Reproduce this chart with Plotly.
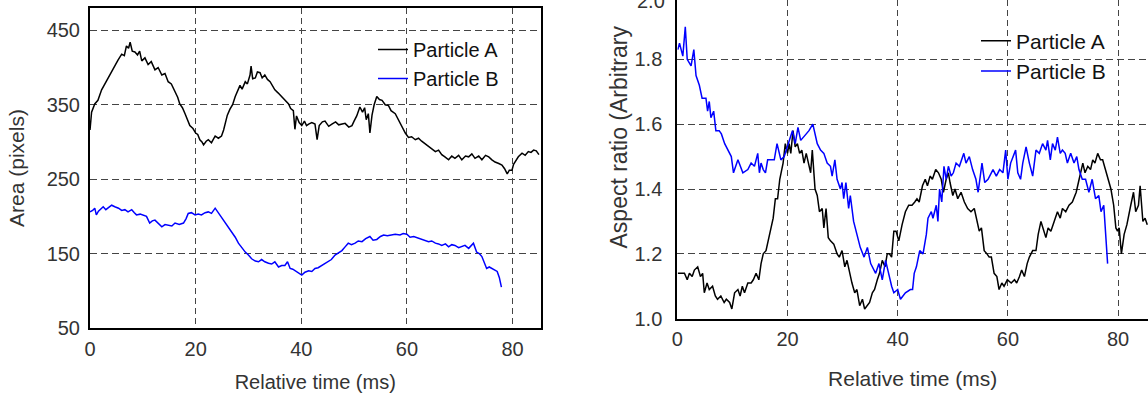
import plotly.graph_objects as go

# ---------------- data ----------------
# Left panel: projected area (pixels) vs relative time (ms)
area_a = [
    (0.0, 316), (0.3, 340), (0.9, 351), (1.5, 356), (2.2, 370), (2.8, 378), (3.5, 388), (4.1, 396),
    (4.7, 404), (5.3, 410), (6.0, 418), (6.5, 416), (6.9, 429), (7.3, 426), (7.6, 434), (8.0, 422),
    (8.5, 421), (9.0, 417), (9.4, 422), (9.8, 409), (10.4, 413), (11.0, 404), (11.6, 408), (12.3, 397),
    (12.9, 400), (13.6, 390), (14.2, 392), (14.8, 381), (15.4, 378), (16.1, 367), (16.6, 360), (17.0, 351),
    (17.5, 346), (18.0, 338), (18.5, 330), (18.9, 322), (19.5, 318), (20.0, 312), (20.4, 310), (20.8, 303),
    (21.2, 300), (21.5, 296), (22.0, 301), (22.4, 303), (23.0, 299), (23.7, 308), (24.3, 305), (24.9, 308),
    (25.3, 316), (25.6, 326), (26.0, 336), (26.5, 344), (27.0, 350), (27.5, 361), (28.0, 369), (28.4, 376),
    (28.8, 371), (29.4, 381), (29.8, 378), (30.3, 390), (30.5, 402), (30.8, 385), (31.3, 386), (31.7, 394),
    (32.2, 393), (32.6, 386), (33.1, 390), (33.6, 384), (34.1, 381), (34.6, 374), (35.0, 370), (35.6, 366),
    (36.3, 361), (37.0, 356), (37.6, 351), (38.0, 345), (38.5, 342), (38.8, 317), (39.1, 335), (39.6, 326),
    (40.1, 322), (40.6, 328), (41.0, 322), (41.4, 324), (42.0, 326), (42.6, 324), (43.0, 303), (43.4, 322),
    (44.0, 327), (44.5, 328), (45.2, 321), (45.8, 324), (46.5, 327), (47.1, 323), (47.7, 324), (48.3, 325),
    (49.0, 320), (49.6, 322), (50.0, 328), (50.5, 335), (51.1, 347), (51.6, 340), (52.0, 346), (52.3, 330),
    (52.7, 338), (53.0, 312), (53.4, 336), (53.8, 350), (54.3, 361), (54.8, 357), (55.3, 356), (55.9, 350),
    (56.5, 349), (57.0, 342), (57.8, 338), (58.5, 328), (59.1, 319), (59.7, 312), (60.3, 306), (60.9, 307),
    (61.6, 303), (62.2, 305), (62.8, 301), (63.5, 297), (64.1, 294), (64.7, 291), (65.4, 287), (66.0, 289),
    (66.6, 283), (67.2, 280), (67.9, 276), (68.5, 281), (69.1, 278), (69.8, 282), (70.4, 276), (71.1, 281),
    (71.7, 280), (72.3, 284), (72.9, 278), (73.6, 281), (74.2, 276), (74.9, 282), (75.5, 280), (76.1, 276),
    (76.7, 273), (77.4, 271), (78.0, 269), (78.5, 264), (79.0, 257), (79.4, 262), (79.9, 262), (80.2, 270),
    (80.5, 273), (81.1, 280), (81.8, 285), (82.4, 282), (83.0, 287), (83.5, 286), (84.0, 289), (84.5, 288),
    (85.0, 283),
]
area_b = [
    (0.0, 206), (0.5, 208), (0.9, 211), (1.2, 202), (1.6, 207), (2.0, 210), (2.5, 213), (3.0, 209),
    (3.5, 212), (4.1, 215), (4.7, 213), (5.4, 211), (6.0, 208), (6.6, 209), (7.2, 206), (7.9, 209),
    (8.4, 205), (8.8, 202), (9.5, 203), (10.1, 202), (10.7, 200), (11.3, 191), (11.8, 194), (12.3, 195),
    (13.0, 190), (13.6, 186), (14.2, 189), (14.8, 188), (15.5, 187), (16.1, 191), (16.9, 189), (17.7, 191),
    (18.2, 197), (18.6, 204), (19.2, 205), (19.9, 202), (20.5, 203), (21.1, 202), (21.8, 205), (22.4, 206),
    (23.0, 204), (23.7, 211), (24.1, 207), (24.6, 202), (25.1, 197), (25.6, 191), (26.2, 185), (26.8, 179),
    (27.5, 172), (28.1, 164), (28.7, 158), (29.4, 152), (30.0, 148), (30.6, 143), (31.3, 140), (31.9, 139),
    (32.5, 142), (33.1, 139), (33.8, 137), (34.4, 136), (35.0, 139), (35.7, 132), (36.3, 134), (36.9, 134),
    (37.4, 139), (37.9, 130), (38.4, 129), (38.8, 127), (39.4, 125), (40.1, 121), (40.7, 125), (41.4, 127),
    (42.0, 126), (42.6, 130), (43.2, 131), (43.9, 134), (44.5, 136), (45.1, 139), (45.7, 142), (46.4, 148),
    (47.0, 151), (47.7, 154), (48.3, 159), (48.9, 164), (49.5, 162), (50.2, 164), (50.8, 167), (51.5, 166),
    (52.2, 170), (53.0, 173), (53.6, 168), (54.3, 169), (55.0, 173), (55.6, 175), (56.3, 174), (57.1, 175),
    (57.8, 176), (58.7, 175), (59.3, 177), (60.0, 176), (60.6, 172), (61.3, 173), (62.0, 171), (62.8, 169),
    (63.4, 168), (64.1, 166), (64.7, 167), (65.4, 164), (66.0, 163), (66.6, 161), (67.3, 163), (67.9, 159),
    (68.5, 162), (69.1, 161), (69.8, 158), (70.4, 160), (71.0, 161), (71.7, 157), (72.2, 161), (72.6, 164),
    (73.2, 152), (73.7, 150), (74.2, 146), (74.7, 137), (75.1, 130), (75.6, 132), (76.1, 130), (76.6, 128),
    (77.1, 126), (77.5, 118), (77.9, 105),
]

# Right panel: aspect ratio (arbitrary units) vs relative time (ms)
aspect_a = [
    (0.1, 1.14), (0.7, 1.14), (1.3, 1.14), (1.8, 1.12), (2.2, 1.14), (2.7, 1.13), (3.1, 1.15), (3.7, 1.16),
    (4.2, 1.13), (4.6, 1.14), (4.9, 1.08), (5.4, 1.11), (5.8, 1.09), (6.4, 1.10), (6.9, 1.07), (7.3, 1.06),
    (7.9, 1.07), (8.5, 1.05), (8.9, 1.06), (9.5, 1.05), (9.9, 1.03), (10.4, 1.08), (11.0, 1.09), (11.4, 1.07),
    (11.8, 1.10), (12.2, 1.08), (12.8, 1.11), (13.4, 1.11), (13.8, 1.12), (14.3, 1.14), (14.8, 1.12), (15.2, 1.17),
    (15.6, 1.20), (16.1, 1.21), (16.6, 1.25), (17.0, 1.28), (17.4, 1.31), (17.8, 1.37), (18.2, 1.37), (18.6, 1.43),
    (19.0, 1.47), (19.2, 1.48), (19.6, 1.54), (20.0, 1.51), (20.3, 1.54), (20.6, 1.51), (21.0, 1.58), (21.4, 1.53),
    (21.8, 1.54), (22.2, 1.51), (22.6, 1.52), (23.0, 1.48), (23.4, 1.51), (23.9, 1.47), (24.2, 1.45), (24.5, 1.52),
    (25.0, 1.40), (25.4, 1.38), (25.8, 1.33), (26.3, 1.34), (26.6, 1.28), (27.0, 1.34), (27.4, 1.25), (27.8, 1.24),
    (28.4, 1.23), (29.0, 1.20), (29.4, 1.19), (29.9, 1.21), (30.4, 1.16), (30.8, 1.18), (31.3, 1.14), (31.7, 1.11),
    (32.2, 1.08), (32.6, 1.09), (33.1, 1.04), (33.6, 1.06), (34.0, 1.03), (34.5, 1.04), (34.9, 1.05), (35.4, 1.08),
    (35.8, 1.09), (36.3, 1.12), (36.7, 1.14), (37.2, 1.18), (37.7, 1.16), (38.1, 1.20), (38.5, 1.20), (38.9, 1.19),
    (39.3, 1.27), (39.7, 1.27), (40.2, 1.24), (40.8, 1.29), (41.4, 1.33), (42.0, 1.35), (42.6, 1.35), (43.1, 1.36),
    (43.5, 1.37), (43.9, 1.36), (44.5, 1.41), (45.0, 1.43), (45.4, 1.41), (45.9, 1.44), (46.3, 1.43), (46.9, 1.46),
    (47.4, 1.45), (47.9, 1.43), (48.3, 1.39), (48.8, 1.43), (49.2, 1.45), (49.5, 1.42), (50.0, 1.38), (50.4, 1.40),
    (50.9, 1.37), (51.5, 1.39), (52.1, 1.36), (52.7, 1.34), (53.3, 1.33), (53.9, 1.34), (54.4, 1.30), (54.8, 1.27),
    (55.2, 1.28), (55.7, 1.21), (56.2, 1.20), (56.6, 1.19), (57.0, 1.19), (57.5, 1.14), (58.0, 1.13), (58.4, 1.09),
    (58.9, 1.11), (59.3, 1.10), (59.9, 1.12), (60.6, 1.11), (61.2, 1.12), (61.6, 1.11), (62.1, 1.13), (62.5, 1.15),
    (63.0, 1.13), (63.5, 1.17), (63.9, 1.19), (64.5, 1.21), (65.1, 1.21), (65.5, 1.26), (66.0, 1.30), (66.5, 1.27),
    (66.9, 1.25), (67.3, 1.28), (67.8, 1.27), (68.4, 1.30), (69.0, 1.33), (69.5, 1.31), (69.9, 1.34), (70.5, 1.33),
    (71.1, 1.35), (71.7, 1.36), (72.4, 1.39), (72.8, 1.42), (73.1, 1.44), (73.6, 1.48), (74.0, 1.45), (74.5, 1.47),
    (75.0, 1.46), (75.4, 1.49), (75.8, 1.48), (76.3, 1.51), (76.8, 1.49), (77.2, 1.49), (77.7, 1.46), (78.2, 1.43),
    (78.7, 1.40), (79.2, 1.35), (79.6, 1.28), (79.9, 1.27), (80.2, 1.28), (80.6, 1.20), (81.1, 1.26), (81.6, 1.29),
    (82.0, 1.33), (82.3, 1.35), (82.8, 1.39), (83.2, 1.33), (83.7, 1.35), (84.0, 1.41), (84.5, 1.30), (84.9, 1.31),
    (85.3, 1.29),
]
aspect_b = [
    (0.1, 1.83), (0.4, 1.85), (1.0, 1.81), (1.45, 1.90), (1.8, 1.80), (2.2, 1.79), (2.5, 1.78), (3.0, 1.83),
    (3.4, 1.75), (4.0, 1.72), (4.5, 1.68), (5.2, 1.68), (5.5, 1.64), (5.8, 1.67), (6.1, 1.62), (6.6, 1.64),
    (7.0, 1.58), (7.6, 1.58), (8.0, 1.57), (8.6, 1.54), (9.2, 1.52), (9.8, 1.50), (10.2, 1.45), (11.0, 1.49),
    (11.9, 1.45), (12.8, 1.46), (13.4, 1.48), (14.0, 1.47), (14.3, 1.49), (14.6, 1.51), (14.9, 1.45), (15.2, 1.48),
    (15.6, 1.46), (16.0, 1.45), (16.4, 1.49), (17.6, 1.49), (18.1, 1.54), (18.8, 1.49), (19.4, 1.50), (20.3, 1.55),
    (20.9, 1.58), (21.4, 1.54), (21.9, 1.59), (22.4, 1.55), (23.3, 1.57), (23.9, 1.58), (24.6, 1.60), (25.4, 1.54),
    (26.0, 1.52), (26.6, 1.51), (27.2, 1.48), (27.8, 1.47), (28.1, 1.44), (28.6, 1.49), (29.0, 1.43), (29.6, 1.40),
    (29.9, 1.42), (30.2, 1.37), (30.6, 1.42), (31.1, 1.34), (31.4, 1.38), (32.0, 1.30), (32.6, 1.26), (33.2, 1.22),
    (33.9, 1.19), (34.5, 1.22), (35.1, 1.17), (36.0, 1.14), (36.6, 1.17), (37.2, 1.12), (37.8, 1.18), (38.4, 1.13),
    (38.9, 1.10), (39.3, 1.08), (40.0, 1.09), (40.5, 1.06), (41.4, 1.08), (42.3, 1.09), (42.7, 1.09), (43.0, 1.14),
    (43.4, 1.16), (44.0, 1.21), (44.6, 1.20), (45.2, 1.26), (45.5, 1.31), (46.1, 1.33), (46.4, 1.31), (47.0, 1.35),
    (47.3, 1.30), (47.6, 1.40), (48.0, 1.36), (48.4, 1.47), (48.8, 1.43), (49.2, 1.47), (49.7, 1.44), (50.1, 1.45),
    (50.6, 1.48), (51.2, 1.47), (52.0, 1.51), (52.4, 1.48), (53.0, 1.50), (53.6, 1.46), (54.2, 1.43), (54.6, 1.39),
    (55.3, 1.48), (55.8, 1.42), (56.4, 1.43), (57.3, 1.46), (57.9, 1.44), (58.5, 1.46), (59.1, 1.45), (59.6, 1.52),
    (60.0, 1.43), (60.5, 1.48), (60.9, 1.50), (61.4, 1.52), (61.8, 1.45), (62.3, 1.43), (62.7, 1.48), (63.3, 1.53),
    (63.9, 1.48), (64.5, 1.44), (65.1, 1.52), (65.7, 1.51), (66.3, 1.54), (66.9, 1.52), (67.2, 1.55), (67.7, 1.49),
    (68.1, 1.54), (68.6, 1.52), (69.0, 1.56), (69.5, 1.51), (69.9, 1.52), (70.4, 1.51), (70.8, 1.48), (71.4, 1.51),
    (72.0, 1.48), (72.5, 1.50), (72.9, 1.46), (73.5, 1.43), (74.1, 1.43), (74.7, 1.39), (75.3, 1.43), (75.9, 1.37),
    (76.5, 1.38), (76.9, 1.33), (77.4, 1.35), (77.7, 1.27), (78.1, 1.17),
]

series_names = ["Particle A", "Particle B"]
series_colors = ["#000000", "#0000ff"]
time_ticks = [0, 20, 40, 60, 80]
area_ticks = [50, 150, 250, 350, 450]
aspect_ticks = [1.0, 1.2, 1.4, 1.6, 1.8]

# ---------------- figure ----------------
W, H = 1148, 396
FONT = "Liberation Sans, Arial, Helvetica, sans-serif"
TXT = "#333333"


def px_x(p):
    return p / W


def px_y(p):
    return 1 - p / H


fig = go.Figure()

for name, color, data in zip(series_names, series_colors, [area_a, area_b]):
    fig.add_trace(go.Scatter(
        x=[d[0] for d in data], y=[d[1] for d in data], mode="lines", name=name,
        line=dict(color=color, width=1.5), xaxis="x", yaxis="y",
        legend="legend", legendgroup="L" + name,
    ))

for name, color, data in zip(series_names, series_colors, [aspect_a, aspect_b]):
    fig.add_trace(go.Scatter(
        x=[d[0] for d in data], y=[d[1] for d in data], mode="lines", name=name,
        line=dict(color=color, width=1.5), xaxis="x2", yaxis="y2",
        legend="legend2", legendgroup="R" + name,
    ))

ax_common = dict(
    showline=True, linecolor="black", linewidth=2, ticks="", zeroline=False,
    showgrid=True, gridcolor="#444444", gridwidth=1,
    tickfont=dict(family=FONT, size=20, color=TXT), automargin=False,
)

left_x0, left_x1, left_top, left_bot = 90, 540.5, 8, 328
right_x0, right_bot = 677.3, 318.7

fig.update_layout(
    width=W, height=H, autosize=False,
    margin=dict(l=0, r=0, t=0, b=0, pad=0),
    paper_bgcolor="white", plot_bgcolor="white",
    font=dict(family=FONT, color=TXT),
    xaxis=dict(
        **ax_common, domain=[px_x(left_x0), px_x(left_x1)], anchor="y",
        range=[0, 85.3], tickvals=time_ticks, mirror=True, griddash="6px,4px",
        ticklabelstandoff=2,
        title=dict(text="Relative time (ms)", font=dict(size=20, color=TXT), standoff=16),
    ),
    yaxis=dict(
        **ax_common, domain=[px_y(left_bot), px_y(left_top)], anchor="x",
        range=[50, 480], tickvals=area_ticks, mirror=True, griddash="7px,4px",
        ticklabelstandoff=4,
        title=dict(text="Area (pixels)", font=dict(size=21, color=TXT), standoff=16),
    ),
    xaxis2=dict(
        **ax_common, domain=[px_x(right_x0), 1.0], anchor="y2",
        range=[0, 85.43], tickvals=time_ticks, griddash="6px,4px",
        ticklabelstandoff=1,
        title=dict(text="Relative time (ms)", font=dict(size=21, color=TXT), standoff=23),
    ),
    yaxis2=dict(
        **ax_common, domain=[px_y(right_bot), 1.0], anchor="x2",
        range=[1.0, 1.983], tickvals=aspect_ticks, tickformat=".1f", griddash="7px,4px",
        ticklabelstandoff=9,
    ),
    legend=dict(
        x=px_x(373), y=px_y(30), xanchor="left", yanchor="top",
        bgcolor="rgba(0,0,0,0)", borderwidth=0, tracegroupgap=0,
        font=dict(family=FONT, size=20, color="#111111"),
    ),
    legend2=dict(
        x=px_x(976), y=px_y(20.5), xanchor="left", yanchor="top",
        bgcolor="rgba(0,0,0,0)", borderwidth=0, tracegroupgap=0,
        font=dict(family=FONT, size=21, color="#111111"),
    ),
    annotations=[
        dict(text="Aspect ratio (Arbitrary", textangle=-90, showarrow=False,
             xref="paper", yref="paper", x=px_x(618), y=px_y(137.5),
             xanchor="center", yanchor="middle",
             font=dict(family=FONT, size=23, color=TXT)),
        dict(text="2.0", showarrow=False, xref="paper", yref="paper",
             x=px_x(667), y=px_y(1), xanchor="right", yanchor="middle",
             font=dict(family=FONT, size=20, color=TXT)),
    ],
)

# remove the browser's default 8px page margin so the figure starts at the window corner
fig.write_html(
    "out.html",
    config={"displayModeBar": False},
    post_script="document.body.style.margin='0px';",
)
